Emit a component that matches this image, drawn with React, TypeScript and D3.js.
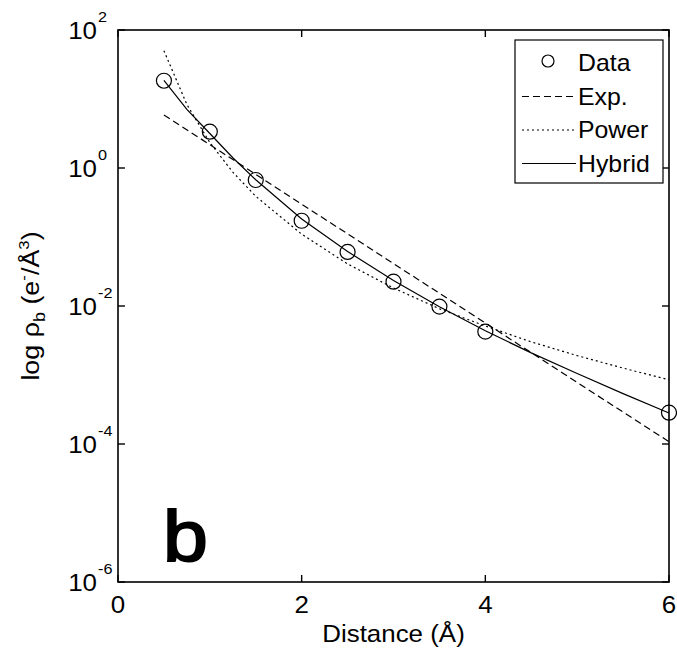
import React from "react";
import * as d3 from "d3";

// measured points (Å, e-/Å^3)
const distance = [0.5, 1, 1.5, 2, 2.5, 3, 3.5, 4, 6];
const density = [18.4, 3.36, 0.67, 0.172, 0.0607, 0.0225, 0.0098, 0.00425, 0.000284];

// fitted curves
const expX = [0.5, 1, 2, 3, 4, 5, 6];
const expY = [5.86, 2.18, 0.299, 0.0412, 0.00568, 0.00078, 0.000108];

const powerX = [0.5, 0.75, 1, 1.25, 1.5, 2, 2.5, 3, 3.5, 4, 4.5, 5, 5.5, 6];
const powerY = [50.1, 8.32, 2.34, 0.871, 0.389, 0.11, 0.0407, 0.0182, 0.00912, 0.00513, 0.00302, 0.00191, 0.00126, 0.000851];

const hybridX = [0.5, 0.75, 1, 1.25, 1.5, 2, 2.5, 3, 3.5, 4, 4.5, 5, 5.5, 6];
const hybridY = [18.6, 7.08, 3.16, 1.41, 0.676, 0.182, 0.0617, 0.0234, 0.00977, 0.00437, 0.00209, 0.00105, 0.000537, 0.000282];

const xTicks = [0, 2, 4, 6];
const yTickExponents = [2, 0, -2, -4, -6];
const legendLabels = ["Data", "Exp.", "Power", "Hybrid"];

const W = 677, H = 651;
const margin = { top: 30, right: 8, bottom: 69, left: 118 };
const FONT = "'Liberation Sans', Arial, Helvetica, sans-serif";
const FS = 24;
const SX = 1.08; // glyphs in the original are a bit wider than Arial

const dashes: Record<string, string> = {
  "Exp.": "7,4",
  Power: "2,3",
  Hybrid: "none",
};

export default function App() {
  const x = d3.scaleLinear().domain([0, 6]).range([margin.left, W - margin.right]);
  const y = d3.scaleLog().domain([1e-6, 1e2]).range([H - margin.bottom, margin.top]);

  const line = d3.line<[number, number]>().x(d => x(d[0])).y(d => y(d[1]));
  const curves = [
    { name: "Exp.", pts: expX.map((v, i) => [v, expY[i]] as [number, number]) },
    { name: "Power", pts: powerX.map((v, i) => [v, powerY[i]] as [number, number]) },
    { name: "Hybrid", pts: hybridX.map((v, i) => [v, hybridY[i]] as [number, number]) },
  ];

  const [x0, x1] = x.range();
  const [y0, y1] = y.range(); // y0 bottom, y1 top
  const tick = 7;

  const legend = { x: 515, y: 40, w: 148, h: 143, rowH: 33.5 };

  return (
    <svg width={W} height={H} style={{ position: "absolute", left: 0, top: 0, background: "#fff" }}
      fontFamily={FONT}>
      <rect width={W} height={H} fill="#fff" />

      {curves.map(c => (
        <path key={c.name} d={line(c.pts) || ""} fill="none" stroke="#000" strokeWidth={1.2}
          strokeDasharray={dashes[c.name]} />
      ))}

      {distance.map((d, i) => (
        <circle key={i} cx={x(d)} cy={y(density[i])} r={7.5} fill="none" stroke="#000" strokeWidth={1.2} />
      ))}

      {/* axes box */}
      <rect x={x0} y={y1} width={x1 - x0} height={y0 - y1} fill="none" stroke="#000" strokeWidth={1.6} />

      {xTicks.map(t => (
        <g key={t}>
          <line x1={x(t)} x2={x(t)} y1={y0} y2={y0 - tick} stroke="#000" strokeWidth={1.4} />
          <line x1={x(t)} x2={x(t)} y1={y1} y2={y1 + tick} stroke="#000" strokeWidth={1.4} />
          <g transform={`translate(${x(t)},${y0 + 31}) scale(${SX},1)`}>
            <text textAnchor="middle" fontSize={FS}>{t}</text>
          </g>
        </g>
      ))}

      {yTickExponents.map(e => (
        <g key={e}>
          <line x1={x0} x2={x0 + tick} y1={y(Math.pow(10, e))} y2={y(Math.pow(10, e))} stroke="#000" strokeWidth={1.4} />
          <line x1={x1} x2={x1 - tick} y1={y(Math.pow(10, e))} y2={y(Math.pow(10, e))} stroke="#000" strokeWidth={1.4} />
          <g transform={`translate(${x0 - 21},${y(Math.pow(10, e)) + 9}) scale(${SX},1)`}>
            <text textAnchor="end" fontSize={FS}>10</text>
          </g>
          <g transform={`translate(${x0 - 20},${y(Math.pow(10, e)) - 8}) scale(${SX},1)`}>
            <text textAnchor="start" fontSize={15}>{e < 0 ? "-" + Math.abs(e) : e}</text>
          </g>
        </g>
      ))}

      {/* axis titles */}
      <g transform={`translate(${(x0 + x1) / 2},${H - 9}) scale(${SX},1)`}>
        <text textAnchor="middle" fontSize={FS}>Distance (Å)</text>
      </g>
      <g transform={`translate(39,${(y0 + y1) / 2}) rotate(-90) scale(1.12,1)`}>
        <text textAnchor="middle" fontSize={FS}>
          log ρ<tspan dy={6} fontSize={16}>b</tspan>
          <tspan dy={-6}> (e</tspan>
          <tspan dy={-10} fontSize={15}>-</tspan>
          <tspan dy={10}>/Å</tspan>
          <tspan dy={-10} fontSize={15}>3</tspan>
          <tspan dy={10}>)</tspan>
        </text>
      </g>

      {/* panel letter */}
      <g transform={`translate(163,561) scale(1.12,1)`}>
        <text fontSize={72} stroke="#000" strokeWidth={2}>b</text>
      </g>

      {/* legend */}
      <rect x={legend.x} y={legend.y} width={legend.w} height={legend.h} fill="#fff" stroke="#000" strokeWidth={1.2} />
      {legendLabels.map((lab, i) => {
        const cy = legend.y + 23 + i * legend.rowH;
        return (
          <g key={lab}>
            {lab === "Data" ? (
              <circle cx={548} cy={cy - 2} r={6} fill="none" stroke="#000" strokeWidth={1.2} />
            ) : (
              <line x1={522} x2={576} y1={cy} y2={cy} stroke="#000" strokeWidth={1.2}
                strokeDasharray={dashes[lab]} />
            )}
            <g transform={`translate(578,${cy + 8}) scale(${SX},1)`}>
              <text fontSize={FS - 1}>{lab}</text>
            </g>
          </g>
        );
      })}
    </svg>
  );
}
